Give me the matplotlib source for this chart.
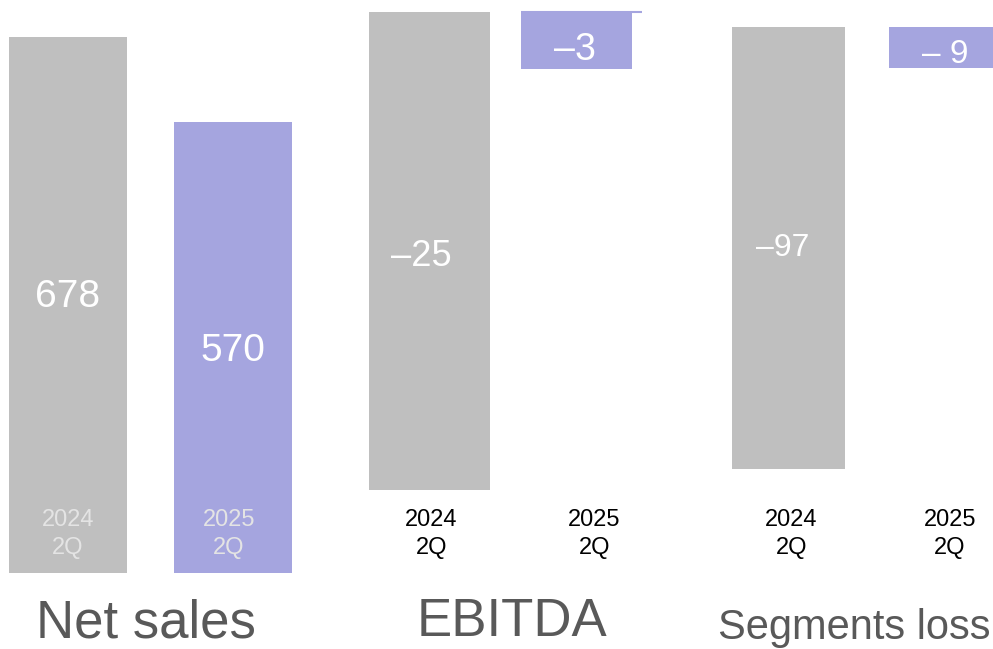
import matplotlib.pyplot as plt
import matplotlib.transforms as mtransforms

plt.rcParams['font.family'] = ['Liberation Sans', 'DejaVu Sans']

# data
panels = ["Net sales", "EBITDA", "Segments loss"]
periods = ["2024\n2Q", "2025\n2Q"]
net_sales = [678, 570]
ebitda = [-25, -3]
segments_loss = [-97, -9]
value_labels = [["678", "570"], ["\u201325", "\u20133"], ["\u201397", "\u2013 9"]]

GRAY = "#BFBFBF"
PURPLE = "#A5A5DF"
TITLE_C = "#595959"

W, H = 993, 649
fig = plt.figure(figsize=(W / 100, H / 100), dpi=100)

# layout per panel (pixels): bar centres, bar widths, baseline, px per unit
layout = [
    dict(c=(68, 233), w=(118, 118), base=573, scale=536 / 678,
         val_fs=(28, 28), val_dx=(0, 0), val_dy=(8, -3),
         lab_dx=(0, -4), lab_col="#E4E4E4",
         title_x=146, title_y=637, title_fs=38),
    dict(c=(429.5, 576.5), w=(121, 111), base=12, scale=478 / 25,
         val_fs=(26, 27), val_dx=(-8, -2), val_dy=(-6, -9),
         lab_dx=(2, 18), lab_col="black",
         title_x=512, title_y=636, title_fs=38),
    dict(c=(788.5, 941), w=(113, 104), base=27, scale=442 / 97,
         val_fs=(23, 24), val_dx=(-6, 4), val_dy=(0, -7),
         lab_dx=(3, 9), lab_col="black",
         title_x=854, title_y=639, title_fs=30),
]
series = [net_sales, ebitda, segments_loss]

for name, vals, labels, lay in zip(panels, series, value_labels, layout):
    ax = fig.add_axes([0, 0, 1, 1])
    ax.set_facecolor("none")
    ax.axis("off")
    unit = lay["c"][1] - lay["c"][0]
    ax.set_xlim(-lay["c"][0] / unit, (W - lay["c"][0]) / unit)
    ax.set_ylim((lay["base"] - H) / lay["scale"], lay["base"] / lay["scale"])
    widths = [w / unit for w in lay["w"]]
    ax.bar([0, 1], vals, width=widths, color=[GRAY, PURPLE])

    if name == "EBITDA":
        # thin top edge sticking out on the right of the 2025 bar
        ax.plot([1 - widths[1] / 2, 1 - widths[1] / 2 + 121 / unit], [0, 0],
                color=PURPLE, lw=1.5, solid_capstyle="butt")

    for i, v in enumerate(vals):
        off = mtransforms.offset_copy(ax.transData, fig=fig, x=lay["val_dx"][i],
                                      y=lay["val_dy"][i], units="dots")
        ax.text(i, v / 2, labels[i], ha="center", va="center", transform=off,
                color="white", fontsize=lay["val_fs"][i])

    trans = mtransforms.blended_transform_factory(ax.transData, fig.transFigure)
    for i, p in enumerate(periods):
        off = mtransforms.offset_copy(trans, fig=fig, x=lay["lab_dx"][i], y=0, units="dots")
        ax.text(i, 1 - 534 / H, p, ha="center", va="center", transform=off,
                color=lay["lab_col"], fontsize=17, linespacing=1.4)

    fig.text(lay["title_x"] / W, 1 - lay["title_y"] / H, name, ha="center",
             va="baseline", color=TITLE_C, fontsize=lay["title_fs"])

fig.savefig("out.png", dpi=100)
